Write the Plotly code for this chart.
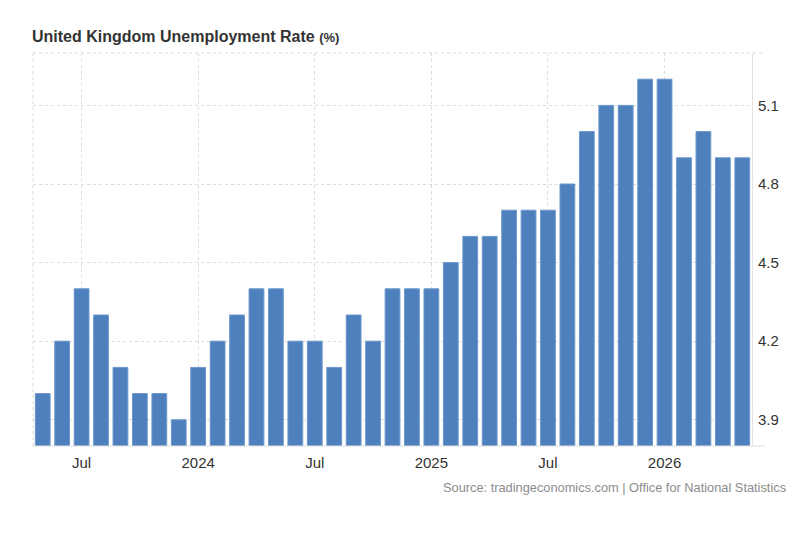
import plotly.graph_objects as go

months = ["2023-05", "2023-06", "2023-07", "2023-08", "2023-09", "2023-10", "2023-11", "2023-12",
          "2024-01", "2024-02", "2024-03", "2024-04", "2024-05", "2024-06", "2024-07", "2024-08",
          "2024-09", "2024-10", "2024-11", "2024-12", "2025-01", "2025-02", "2025-03", "2025-04",
          "2025-05", "2025-06", "2025-07", "2025-08", "2025-09", "2025-10", "2025-11", "2025-12",
          "2026-01", "2026-02", "2026-03", "2026-04", "2026-05"]
rates = [4.0, 4.2, 4.4, 4.3, 4.1, 4.0, 4.0, 3.9,
         4.1, 4.2, 4.3, 4.4, 4.4, 4.2, 4.2, 4.1,
         4.3, 4.2, 4.4, 4.4, 4.4, 4.5, 4.6, 4.6,
         4.7, 4.7, 4.7, 4.8, 5.0, 5.1, 5.1, 5.2,
         5.2, 4.9, 5.0, 4.9, 4.9]
tick_months = ["2023-07", "2024-01", "2024-07", "2025-01", "2025-07", "2026-01"]
tick_labels = ["Jul", "2024", "Jul", "2025", "Jul", "2026"]
y_ticks = [3.9, 4.2, 4.5, 4.8, 5.1]

FONT = "Arial, Liberation Sans, sans-serif"

fig = go.Figure(go.Bar(
    x=months, y=rates,
    marker=dict(color="#4e80bd", line=dict(color="#6b97cb", width=1)),
    hoverinfo="skip",
))

L, R, T, B = 33, 48, 53, 100
pw = 800 - L - R
ext = 13 / pw

fig.update_layout(
    width=800, height=546,
    margin=dict(l=L, r=R, t=T, b=B),
    paper_bgcolor="white", plot_bgcolor="white",
    bargap=0.24,
    showlegend=False,
    font=dict(family=FONT, color="#333333"),
    title=dict(
        text="<b>United Kingdom Unemployment Rate</b> <b><span style='font-size:13px'>(%)</span></b>",
        x=32 / 800, xref="container", xanchor="left",
        y=1 - 36 / 546, yref="container", yanchor="middle",
        font=dict(size=16, color="#333333", family=FONT),
    ),
    xaxis=dict(
        type="category",
        range=[-0.5, len(months) - 0.5],
        tickmode="array", tickvals=tick_months, ticktext=tick_labels,
        showgrid=True, gridcolor="#dcdcdc", griddash="dot", gridwidth=1,
        showline=False, zeroline=False,
        ticks="", ticklabelstandoff=6, tickfont=dict(size=15, color="#333333"),
    ),
    yaxis=dict(
        side="right",
        range=[3.8, 5.3],
        tickmode="array", tickvals=y_ticks, ticktext=[f"{v:.1f}" for v in y_ticks],
        showgrid=True, gridcolor="#dcdcdc", griddash="dot", gridwidth=1,
        showline=True, linecolor="#e3e3e3", linewidth=1,
        zeroline=False, ticks="", ticklabelstandoff=2,
        tickfont=dict(size=15, color="#333333"),
    ),
    shapes=[
        # bottom axis line
        dict(type="line", xref="paper", yref="paper", x0=0, x1=1 + ext, y0=0, y1=0,
             line=dict(color="#e0e0e0", width=1)),
        # top dotted border
        dict(type="line", xref="paper", yref="paper", x0=0, x1=1 + ext, y0=1, y1=1,
             line=dict(color="#dcdcdc", width=1, dash="dot")),
        # left dotted border
        dict(type="line", xref="paper", yref="paper", x0=0, x1=0, y0=0, y1=1,
             line=dict(color="#dcdcdc", width=1, dash="dot")),
    ],
    annotations=[
        dict(text="Source: tradingeconomics.com | Office for National Statistics",
             xref="paper", yref="paper", x=(788 - L) / pw, y=(446 - 487) / 393,
             xanchor="right", yanchor="middle", showarrow=False,
             font=dict(size=12.8, color="#8c8c8c", family=FONT)),
    ],
)

fig.write_html("out.html")
